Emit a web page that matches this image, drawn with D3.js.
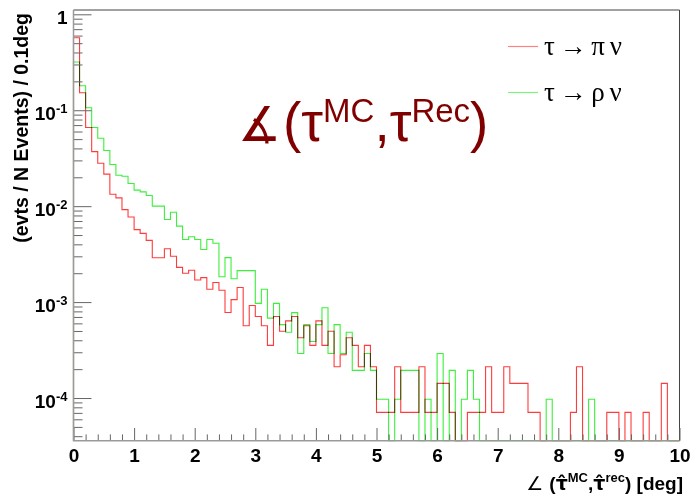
<!DOCTYPE html>
<html><head><meta charset="utf-8">
<script src="https://cdn.jsdelivr.net/npm/d3@7"></script>
<style>body{margin:0;background:#fff}svg{display:block}</style>
</head><body><svg id="c" width="691" height="498"></svg>
<script>
// ---- data ----
const binStart = 0, binWidth = 0.1;
const seriesNames = ["τ → π ν", "τ → ρ ν"];
const piNu = [
0.57, 0.152, 0.066, 0.037, 0.028, 0.0216, 0.0133, 0.0122, 0.0092, 0.0077,
0.0057, 0.0052, 0.0044, 0.0029, 0.0029, 0.0036, 0.0030, 0.0023, 0.0020, 0.00215,
0.0017, 0.0018, 0.00136, 0.0016, 0.00133, 0.00078, 0.00106, 0.00142, 0.000566, 0.00092,
0.000708, 0.000566, 0.000354, 0.000708, 0.000496, 0.000637, 0.000708, 0.000425, 0.000566, 0.000354,
0.000637, 0.000354, 0.000496, 0.000212, 0.000283, 0.000425, 0.000354, 0.000212, 0.000354, 0.000212,
7.08e-5, 7.08e-5, 7.08e-5, 0.000212, 7.08e-5, 7.08e-5, 7.08e-5, 0.000212, 7.08e-5, 7.08e-5,
0.000142, 0.000142, 7.08e-5, 0, 0, 7.08e-5, 7.08e-5, 7.08e-5, 0.000212, 7.08e-5,
7.08e-5, 0.000212, 0.000142, 0.000142, 0.000142, 7.08e-5, 7.08e-5, 0, 0, 0,
0, 0, 7.08e-5, 0.000212, 0, 0, 0, 0, 7.08e-5, 7.08e-5,
0, 7.08e-5, 0, 0, 7.08e-5, 0, 0, 0.000142, 0, 0
];
const rhoNu = [
0.318, 0.18, 0.106, 0.066, 0.051, 0.038, 0.0272, 0.021, 0.0205, 0.0172,
0.0147, 0.0141, 0.0129, 0.0100, 0.0100, 0.00725, 0.00863, 0.0062, 0.0045, 0.0048,
0.0045, 0.00354, 0.0045, 0.0041, 0.00184, 0.00291, 0.00175, 0.00213, 0.00213, 0.00213,
0.00097, 0.00136, 0.00068, 0.00097, 0.000582, 0.000485, 0.000776, 0.000291, 0.000582, 0.000388,
0.000582, 0.000873, 0.000291, 0.000582, 0.000291, 0.000485, 0.000194, 0.000194, 0.000291, 0.000194,
9.7e-5, 9.7e-5, 0, 9.7e-5, 0.000194, 0.000194, 0.000194, 0, 9.7e-5, 0,
0.000291, 0, 0.000194, 0, 9.7e-5, 0.000194, 9.7e-5, 0, 0, 0,
0, 0, 0, 0, 0, 0, 0, 0, 9.7e-5, 0,
0, 0, 0, 0, 0, 9.7e-5, 0, 0, 0, 0,
0, 0, 0, 0, 0, 0, 0, 0, 0, 0
];
const xTickValues = [0,1,2,3,4,5,6,7,8,9,10];
const xTickLabels = ["0","1","2","3","4","5","6","7","8","9","10"];
const yTickValues = [1, 1e-1, 1e-2, 1e-3, 1e-4];
const yTickLabels = [["1",""],["10","-1"],["10","-2"],["10","-3"],["10","-4"]];

// ---- layout ----
const L = 73.5, R = 679.5, T = 10, B = 440.7;
const svg = d3.select("#c");
const x = d3.scaleLinear().domain([0, 10]).range([L, R]);
const y = d3.scaleLog().domain([3.59e-5, 1.109]).range([B, T]);
const Y = v => v > 0 ? Math.max(T, Math.min(B, y(v))) : B;

function histPoints(vals){
  const pts = [[x(binStart), B]];
  vals.forEach((v, i) => {
    const lo = binStart + i*binWidth, hi = lo + binWidth;
    pts.push([x(lo), Y(v)], [x(hi), Y(v)]);
  });
  pts.push([x(binStart + vals.length*binWidth), B]);
  return pts;
}
const line = d3.line();
const gPlot = svg.append("g");
gPlot.append("path").attr("d", line(histPoints(piNu)))
  .attr("fill","none").attr("stroke","#ff3c3c").attr("stroke-width",1.1)
  .style("mix-blend-mode","multiply");
gPlot.append("path").attr("d", line(histPoints(rhoNu)))
  .attr("fill","none").attr("stroke","#3cf03c").attr("stroke-width",1.1)
  .style("mix-blend-mode","multiply");

// ---- frame ----
svg.append("line").attr("x1",L).attr("x2",R).attr("y1",T).attr("y2",T).attr("stroke","#444").attr("stroke-width",1);
svg.append("line").attr("x1",R).attr("x2",R).attr("y1",T).attr("y2",B).attr("stroke","#444").attr("stroke-width",1);

// y axis ticks (inside)
const yMinor = [];
for (let e = -5; e <= 0; e++) for (let m = 2; m <= 9; m++) {
  const v = m*Math.pow(10,e); if (v >= 3.59e-5 && v <= 1.109) yMinor.push(v);
}
const yAxMinor = svg.append("g").attr("transform",`translate(${L},0)`)
  .call(d3.axisRight(y).tickValues(yMinor).tickSize(9).tickFormat(""));
const yAxMajor = svg.append("g").attr("transform",`translate(${L},0)`)
  .call(d3.axisRight(y).tickValues(yTickValues).tickSize(18).tickFormat(""));
[yAxMinor, yAxMajor].forEach(g => {
  g.select(".domain").remove();
  g.selectAll(".tick line").attr("stroke","#666").attr("stroke-width",1);
});
// y labels
const yAxLab = svg.append("g").attr("transform",`translate(${L},0)`)
  .call(d3.axisLeft(y).tickValues(yTickValues).tickSize(0).tickFormat(""));
yAxLab.select(".domain").remove();
yAxLab.selectAll(".tick").each(function(d,i){
  const t = d3.select(this).append("text")
    .attr("x",-6).attr("y",3).attr("dy","0.35em").attr("text-anchor","end")
    .attr("font-family","Liberation Sans, Arial, sans-serif").attr("font-weight","bold")
    .attr("font-size",19).attr("fill","#000");
  t.append("tspan").text(yTickLabels[i][0]);
  if (yTickLabels[i][1]) t.append("tspan").attr("dy","-0.55em").attr("font-size",13).text(yTickLabels[i][1]);
});

// x axis ticks (inside, upward)
const xMinor = d3.range(0, 10.0001, 0.2).filter(v => Math.abs(v - Math.round(v)) > 1e-6);
const xAxMinor = svg.append("g").attr("transform",`translate(0,${B})`)
  .call(d3.axisTop(x).tickValues(xMinor).tickSize(6.3).tickFormat(""));
const xAxMajor = svg.append("g").attr("transform",`translate(0,${B})`)
  .call(d3.axisTop(x).tickValues(xTickValues).tickSize(12.7).tickFormat(""));
[xAxMinor, xAxMajor].forEach(g => {
  g.select(".domain").remove();
  g.selectAll(".tick line").attr("stroke","#666").attr("stroke-width",1);
});
const xAxLab = svg.append("g").attr("transform",`translate(0,${B})`)
  .call(d3.axisBottom(x).tickValues(xTickValues).tickSize(0).tickPadding(7.5)
    .tickFormat((d,i) => xTickLabels[i]));
xAxLab.select(".domain").remove();
xAxLab.selectAll("text").attr("font-family","Liberation Sans, Arial, sans-serif")
  .attr("font-weight","bold").attr("font-size",19).attr("fill","#000");

// axis lines
svg.append("line").attr("x1",L).attr("x2",L).attr("y1",T).attr("y2",B+0.5).attr("stroke","#9a9a9a").attr("stroke-width",1.5);
svg.append("line").attr("x1",L).attr("x2",R).attr("y1",B).attr("y2",B).attr("stroke","#9a9a9a").attr("stroke-width",1.5);

// axis titles
svg.append("text").attr("transform","translate(28,13) rotate(-90)")
  .attr("text-anchor","end").attr("font-family","Liberation Sans, Arial, sans-serif")
  .attr("font-weight","bold").attr("font-size",19.5).text("(evts / N Events) / 0.1deg");

const xt = svg.append("text").attr("x",683).attr("y",490).attr("text-anchor","end")
  .attr("font-family","Liberation Sans, Arial, sans-serif").attr("font-weight","bold").attr("font-size",19);
xt.append("tspan").attr("font-weight","normal").attr("font-family","DejaVu Sans").text("∠ ");
xt.append("tspan").text("(");
xt.append("tspan").attr("font-family","DejaVu Sans").text("τ\u0302");
xt.append("tspan").attr("dy",-8).attr("font-size",13).text("MC");
xt.append("tspan").attr("dy",8).text(",");
xt.append("tspan").attr("font-family","DejaVu Sans").text("τ\u0302");
xt.append("tspan").attr("dy",-8).attr("font-size",13).text("rec");
xt.append("tspan").attr("dy",8).text(") [deg]");

// legend
const legend = svg.append("g");
const legColors = ["#ff8080","#80f080"];
seriesNames.forEach((n,i) => {
  const ly = 46.5 + i*46;
  legend.append("line").attr("x1",508).attr("x2",538).attr("y1",ly).attr("y2",ly)
    .attr("stroke",legColors[i]).attr("stroke-width",1.2);
  legend.append("text").attr("x",544).attr("y",ly).attr("dy","0.33em")
    .attr("font-family","Liberation Serif, Times New Roman, serif").attr("font-size",27)
    .attr("word-spacing","-2px")
    .attr("fill","#000").text(n);
});

// big label
const bl = svg.append("text").attr("x",238).attr("y",141)
  .attr("font-family","Liberation Sans, Arial, sans-serif").attr("font-size",55).attr("fill","#800000");
bl.append("tspan").attr("font-family","DejaVu Sans").attr("font-size",48).text("∡");
bl.append("tspan").attr("dx",2).text("(τ");
bl.append("tspan").attr("dy",-19).attr("font-size",33).text("MC");
bl.append("tspan").attr("dy",19).text(",τ");
bl.append("tspan").attr("dy",-19).attr("font-size",33).text("Rec");
bl.append("tspan").attr("dy",19).text(")");
</script></body></html>
